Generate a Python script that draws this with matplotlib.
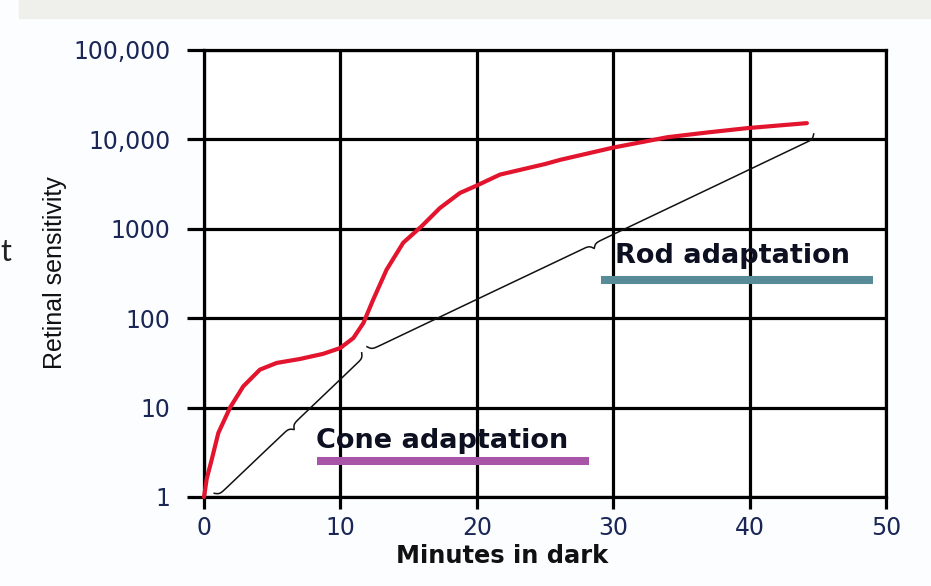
import numpy as np
import matplotlib
matplotlib.use("Agg")
import matplotlib.pyplot as plt
from matplotlib.patches import Rectangle
from matplotlib.ticker import NullLocator

# ---------------- data ----------------
minutes = [0, 0.2, 0.56, 1.05, 1.91, 2.88, 4.1, 5.33, 7.04, 8.75, 10.0, 10.95, 11.68,
           12.41, 13.39, 14.61, 15.96, 17.3, 18.77, 19.98, 21.7, 25.0, 26.1,
           30.0, 34.0, 37.0, 39.9, 44.2]
sensitivity = [1, 1.6, 2.6, 5.2, 10, 17.3, 26.6, 31.6, 35, 40, 46.5, 60, 88,
               162, 350, 700, 1070, 1710, 2520, 3040, 4040, 5300, 5900,
               8100, 10600, 12000, 13400, 15200]

x_ticks = [0, 10, 20, 30, 40, 50]
x_tick_labels = ["0", "10", "20", "30", "40", "50"]
y_ticks = [1, 10, 100, 1000, 10000, 100000]
y_tick_labels = ["1", "10", "100", "1000", "10,000", "100,000"]

cone_brace_start = (0.75, 1.1)
cone_brace_end = (11.56, 41)
rod_brace_start = (11.95, 48)
rod_brace_end = (44.7, 11500)

cone_label = "Cone adaptation"
cone_label_xy = (8.2, 4.2)
cone_bar_x = [8.3, 28.2]
cone_bar_y = 2.5

rod_label = "Rod adaptation"
rod_label_xy = (30.1, 500)
rod_bar_x = [29.1, 49.05]
rod_bar_y = 268

# ---------------- figure ----------------
W, H = 931, 586
fig = plt.figure(figsize=(W / 100, H / 100), dpi=100, facecolor="#fcfdff")
fig.patches.append(Rectangle((19 / W, 1 - 18 / H), 1, 18 / H, transform=fig.transFigure,
                             color="#efefeb", zorder=-5))
ax = fig.add_axes([204 / W, 1 - 497 / H, 682 / W, 447 / H])
ax.set_facecolor("white")

ax.set_xlim(0, 50)
ax.set_yscale("log")
ax.set_ylim(1, 100000)
ax.set_xticks(x_ticks)
ax.set_xticklabels(x_tick_labels)
ax.set_yticks(y_ticks)
ax.set_yticklabels(y_tick_labels)
ax.yaxis.set_minor_locator(NullLocator())
ax.xaxis.set_minor_locator(NullLocator())

lw_grid = 2.3
ax.grid(True, which="major", color="black", linewidth=lw_grid)
for sp in ax.spines.values():
    sp.set_linewidth(lw_grid)
    sp.set_color("black")

tick_color = "#1a2656"
ax.tick_params(axis="y", direction="out", length=12.2, width=lw_grid, pad=12,
               labelsize=17, labelcolor=tick_color)
ax.tick_params(axis="x", direction="out", length=8.6, width=lw_grid, pad=5,
               labelsize=17, labelcolor=tick_color)
for lab in ax.get_xticklabels() + ax.get_yticklabels():
    lab.set_fontfamily("DejaVu Sans")

ax.set_xlabel("Minutes in dark", fontsize=17.4, fontweight="bold",
              fontfamily="DejaVu Sans", color="#111111", va="center")
ax.xaxis.set_label_coords((502 - 204) / 682, (497 - 556) / 447)
ax.set_ylabel("Retinal sensitivity", fontsize=18, fontfamily="Liberation Sans",
              color="#111111", va="center")
ax.yaxis.set_label_coords((55 - 204) / 682, (497 - 273) / 447)

# red curve
ax.plot(minutes, sensitivity, color="#e3142d", linewidth=3.0, zorder=4,
        solid_capstyle="round", solid_joinstyle="round", clip_on=False)


def draw_brace(p0, p1, h=9.0, beta=0.6):
    T = ax.transData
    a = T.transform(p0)
    b = T.transform(p1)
    d = b - a
    L = np.hypot(*d)
    u = d / L
    n = np.array([u[1], -u[0]])
    s = np.linspace(0, L / 2, 300)
    off = h * (1 / (1 + np.exp(-beta * s)) + 1 / (1 + np.exp(-beta * (s - L / 2))) - 0.5)
    s_full = np.concatenate([s, L - s[::-1]])
    off_full = np.concatenate([off, off[::-1]])
    pts = a[None, :] + s_full[:, None] * u[None, :] + off_full[:, None] * n[None, :]
    dat = T.inverted().transform(pts)
    ax.plot(dat[:, 0], dat[:, 1], color="#111111", linewidth=1.1, zorder=3, clip_on=False)


draw_brace(cone_brace_start, cone_brace_end)
draw_brace(rod_brace_start, rod_brace_end)

# annotations
txt_kw = dict(fontsize=19.5, fontweight="bold", fontfamily="DejaVu Sans",
              color="#0d1020", va="center", ha="left", zorder=5)
ax.text(cone_label_xy[0], cone_label_xy[1], cone_label, **txt_kw)
ax.text(rod_label_xy[0], rod_label_xy[1], rod_label, **txt_kw)
ax.plot(cone_bar_x, [cone_bar_y, cone_bar_y], color="#a855a8", linewidth=5.8,
        solid_capstyle="butt", zorder=5)
ax.plot(rod_bar_x, [rod_bar_y, rod_bar_y], color="#578b97", linewidth=5.8,
        solid_capstyle="butt", zorder=5)

# stray slide letter at the left edge
fig.text(0.0, 1 - 252 / H, "t", fontsize=22, fontfamily="Lato", color="#222222",
         va="center", ha="left")

fig.savefig("out.png", dpi=100, facecolor=fig.get_facecolor())
